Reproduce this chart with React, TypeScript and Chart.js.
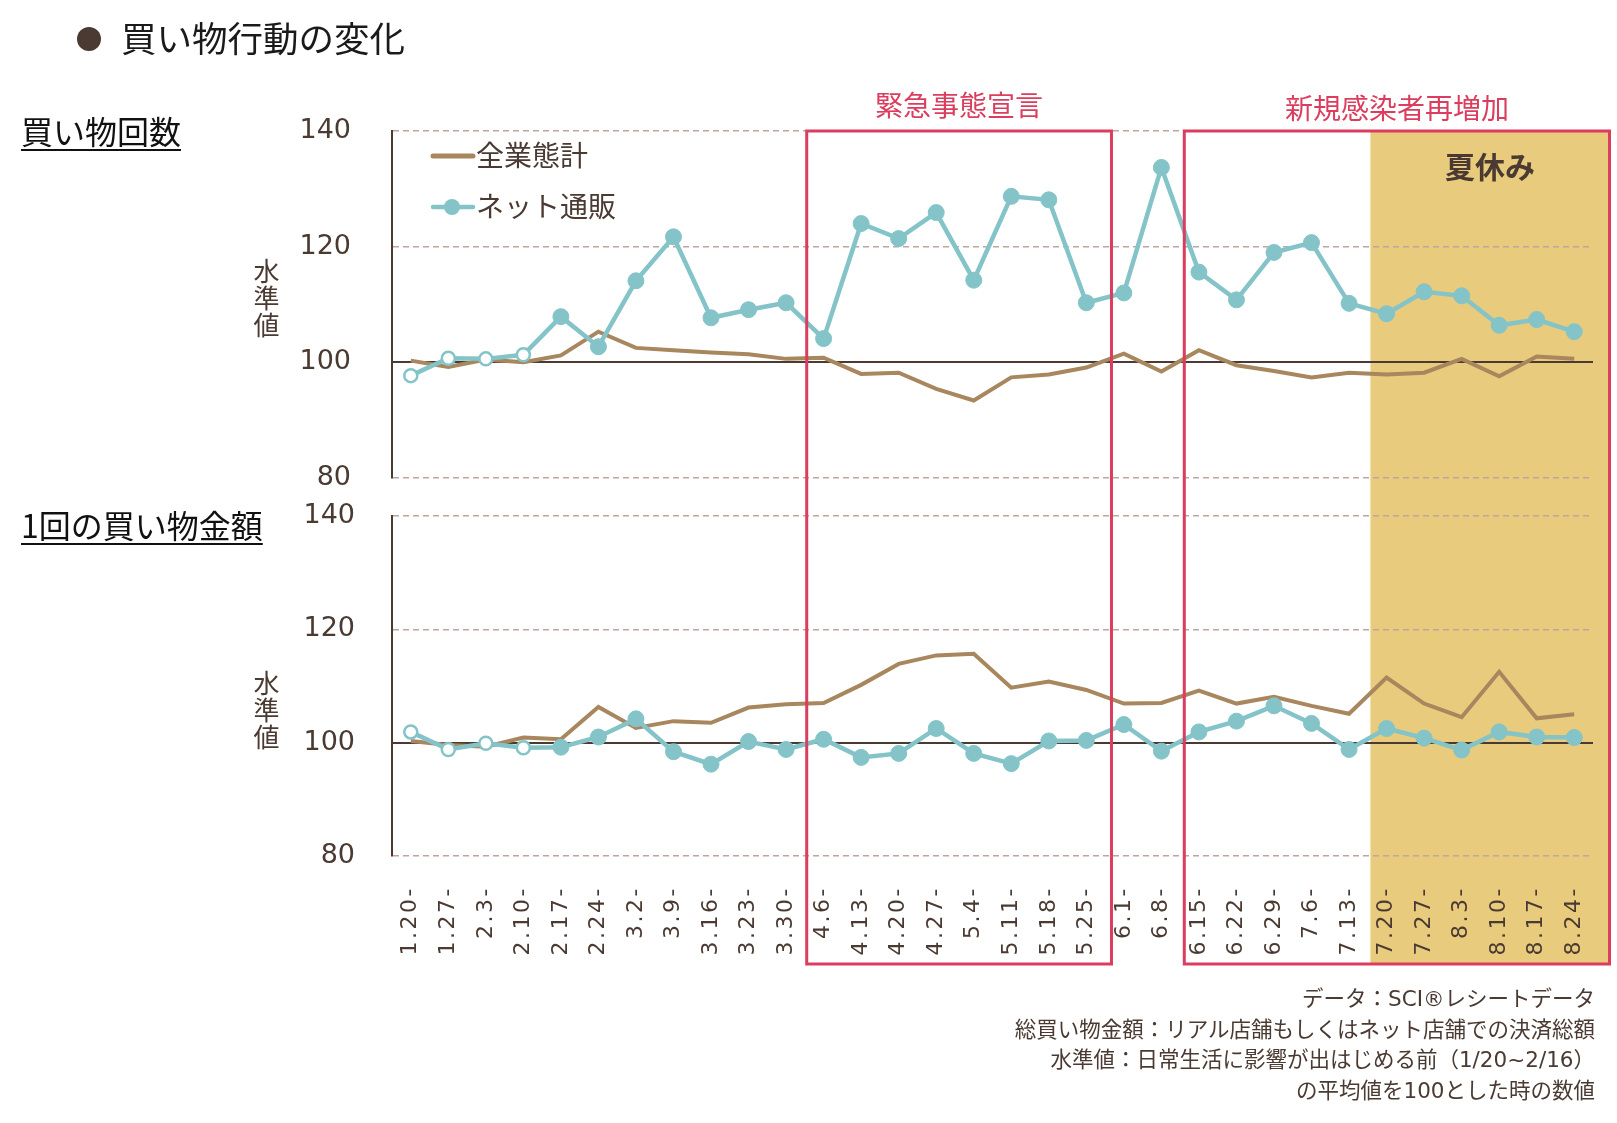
import React, { useEffect, useRef } from 'react';
import { Chart, registerables } from 'chart.js';

Chart.register(...registerables);

// ---- data ----
const categories = [
  '1.20-', '1.27-', '2.3-', '2.10-', '2.17-', '2.24-', '3.2-', '3.9-', '3.16-', '3.23-', '3.30-',
  '4.6-', '4.13-', '4.20-', '4.27-', '5.4-', '5.11-', '5.18-', '5.25-', '6.1-', '6.8-',
  '6.15-', '6.22-', '6.29-', '7.6-', '7.13-', '7.20-', '7.27-', '8.3-', '8.10-', '8.17-', '8.24-',
];

// 買い物回数
const countTotal = [
  100.3, 99.2, 100.5, 100.0, 101.2, 105.3, 102.5, 102.1, 101.7, 101.4, 100.6,
  100.8, 98.0, 98.2, 95.4, 93.4, 97.4, 97.9, 99.1, 101.5, 98.4,
  102.1, 99.5, 98.5, 97.4, 98.2, 97.9, 98.2, 100.6, 97.6, 101.0, 100.6,
];
const countNet = [
  97.7, 100.7, 100.6, 101.3, 107.9, 102.7, 114.1, 121.7, 107.7, 109.1, 110.3,
  104.1, 124.0, 121.4, 125.9, 114.2, 128.7, 128.1, 110.3, 112.0, 133.7,
  115.6, 110.8, 119.0, 120.7, 110.2, 108.4, 112.2, 111.5, 106.4, 107.4, 105.3,
];

// 1回の買い物金額
const amountTotal = [
  100.3, 99.6, 99.3, 100.9, 100.6, 106.3, 102.6, 103.8, 103.5, 106.2, 106.8,
  107.0, 110.2, 113.9, 115.4, 115.7, 109.7, 110.8, 109.3, 106.9, 107.0,
  109.2, 106.9, 108.1, 106.5, 105.1, 111.5, 106.9, 104.5, 112.5, 104.3, 105.0,
];
const amountNet = [
  101.9, 98.8, 99.9, 99.1, 99.2, 101.0, 104.2, 98.4, 96.2, 100.2, 98.8,
  100.6, 97.4, 98.1, 102.5, 98.1, 96.3, 100.3, 100.4, 103.2, 98.5,
  101.9, 103.8, 106.5, 103.4, 98.8, 102.5, 100.8, 98.7, 101.9, 101.0, 100.9,
];

const yTicks = [80, 100, 120, 140];
const seriesNames = ['全業態計', 'ネット通販'];
const baselineWeeks = 4; // 1/20~2/16: hollow markers

const footnotes = [
  'データ：SCI®レシートデータ',
  '総買い物金額：リアル店舗もしくはネット店舗での決済総額',
  '水準値：日常生活に影響が出はじめる前（1/20~2/16）',
  'の平均値を100とした時の数値',
];

// ---- styles ----
const INK = '#4a3a32';
const TEAL = '#84c4c8';
const BROWN = '#a8865e';
const RED = '#db3d5e';
const SHADE = '#e8cb7d';
const GRID = '#bfa69e';
const CJK = '"Noto Sans CJK JP", "Noto Sans", sans-serif';
const LATIN = '"DejaVu Sans", sans-serif';
const MIXED = '"DejaVu Sans", "Noto Sans CJK JP", sans-serif';

const periodsPlugin = {
  id: 'periods',
  beforeDraw(chart: any) {
    const xs: any = chart.scales.x;
    if (xs && !xs.__spaced) {
      const orig = xs.drawLabels.bind(xs);
      xs.drawLabels = (area: any) => {
        const ctx = chart.ctx;
        ctx.save();
        (ctx as any).letterSpacing = '2.5px';
        orig(area);
        ctx.restore();
      };
      xs.__spaced = true;
    }
    const g = geometry(chart);
    const ctx = chart.ctx;
    ctx.save();
    ctx.fillStyle = SHADE;
    ctx.fillRect(g.shadeLeft, g.top, g.box2Right - g.shadeLeft, g.bottom - g.top);
    ctx.restore();
  },
  afterDraw(chart: any) {
    const g = geometry(chart);
    const ctx = chart.ctx;
    ctx.save();
    ctx.strokeStyle = RED;
    ctx.lineWidth = 3;
    ctx.strokeRect(g.box1Left, g.top, g.box1Right - g.box1Left, g.bottom - g.top);
    ctx.strokeRect(g.box2Left, g.top, g.box2Right - g.box2Left, g.bottom - g.top);
    ctx.fillStyle = RED;
    ctx.font = `28px ${CJK}`;
    ctx.textAlign = 'center';
    ctx.textBaseline = 'middle';
    ctx.fillText('緊急事態宣言', (g.box1Left + g.box1Right) / 2, g.top - 26);
    ctx.fillText('新規感染者再増加', (g.box2Left + g.box2Right) / 2, g.top - 23);
    ctx.fillStyle = INK;
    ctx.font = `bold 30px ${CJK}`;
    ctx.fillText('夏休み', (g.shadeLeft + g.box2Right) / 2, g.top + 36);

    // legend
    const lx = chart.chartArea.left + 39;
    const ly1 = chart.chartArea.top + 25;
    const ly2 = chart.chartArea.top + 76;
    ctx.lineCap = 'round';
    ctx.lineWidth = 5;
    ctx.strokeStyle = BROWN;
    ctx.beginPath();
    ctx.moveTo(lx + 2, ly1);
    ctx.lineTo(lx + 42, ly1);
    ctx.stroke();
    ctx.strokeStyle = TEAL;
    ctx.lineWidth = 4.5;
    ctx.beginPath();
    ctx.moveTo(lx + 2, ly2);
    ctx.lineTo(lx + 42, ly2);
    ctx.stroke();
    ctx.fillStyle = TEAL;
    ctx.beginPath();
    ctx.arc(lx + 21, ly2, 8, 0, Math.PI * 2);
    ctx.fill();
    ctx.fillStyle = INK;
    ctx.font = `28px ${CJK}`;
    ctx.textAlign = 'left';
    ctx.fillText(seriesNames[0], lx + 45, ly1 - 1);
    ctx.fillText(seriesNames[1], lx + 45, ly2 - 1);
    ctx.restore();
  },
};

function geometry(chart: any) {
  const xs = chart.scales.x;
  const at = (label: string, shift: number) => xs.getPixelForValue(categories.indexOf(label) + shift);
  const top = chart.chartArea.top;
  const bottom = chart.chartArea.bottom + 108;
  return {
    top,
    bottom,
    box1Left: at('4.6-', -0.45),
    box1Right: at('5.25-', 0.67),
    box2Left: at('6.15-', -0.39),
    box2Right: at('8.24-', 0.94),
    shadeLeft: at('7.20-', -0.43),
  };
}

function isBase(c: any) {
  return c && c.tick && c.tick.value === 100;
}

function panelAxis(weight: number, stackWeight: number, pad: number) {
  return {
    type: 'linear',
    position: 'left',
    stack: 'panels',
    stackWeight,
    weight,
    min: yTicks[0],
    max: yTicks[yTicks.length - 1],
    afterBuildTicks: (s: any) => {
      s.ticks = yTicks.map((v) => ({ value: v }));
    },
    afterFit: (s: any) => {
      s.width = 120;
    },
    ticks: {
      padding: pad,
      color: INK,
      font: { family: LATIN, size: 27 },
    },
    grid: {
      drawTicks: false,
      color: (c: any) => (isBase(c) ? INK : GRID),
      lineWidth: (c: any) => (isBase(c) ? 2 : 1.6),
    },
    border: {
      color: INK,
      width: 2,
      dash: (c: any) => (c && c.tick && !isBase(c) ? [6, 4] : []),
    },
  };
}

export default function App() {
  const ref = useRef<HTMLCanvasElement>(null);

  useEffect(() => {
    const canvas = ref.current;
    if (!canvas) return;
    const pointBg = categories.map((_, i) => (i < baselineWeeks ? '#ffffff' : TEAL));
    const pointRadius = categories.map((_, i) => (i < baselineWeeks ? 6.5 : 8));
    const pointBorderWidth = categories.map((_, i) => (i < baselineWeeks ? 2.5 : 1));

    const netStyle = {
      borderColor: TEAL,
      borderWidth: 4.5,
      pointBackgroundColor: pointBg,
      pointBorderColor: TEAL,
      pointBorderWidth,
      pointRadius,
      pointHoverRadius: pointRadius,
      tension: 0,
    };
    const totalStyle = {
      borderColor: BROWN,
      borderWidth: 4,
      pointRadius: 0,
      tension: 0,
    };

    const chart = new Chart(canvas, {
      type: 'line',
      data: {
        labels: categories,
        datasets: [
          { label: seriesNames[1], data: countNet, yAxisID: 'yTop', ...netStyle },
          { label: seriesNames[1], data: amountNet, yAxisID: 'yBot', ...netStyle },
          { label: seriesNames[0], data: countTotal, yAxisID: 'yTop', ...totalStyle },
          { label: seriesNames[0], data: amountTotal, yAxisID: 'yBot', ...totalStyle },
        ],
      },
      options: {
        responsive: false,
        animation: false,
        layout: { padding: { left: 272, top: 131, right: 24, bottom: 157 } },
        plugins: { legend: { display: false }, tooltip: { enabled: false } },
        scales: {
          x: {
            type: 'category',
            offset: true,
            grid: { display: false },
            border: { display: false },
            afterFit: (s: any) => {
              s.height = 110;
              s.paddingLeft = 0;
              s.paddingRight = 0;
            },
            ticks: {
              color: INK,
              font: { family: LATIN, size: 22 },
              minRotation: 90,
              maxRotation: 90,
              autoSkip: false,
              padding: 22,
            },
          },
          yTop: panelAxis(3, 347, 41),
          yGap: {
            type: 'linear',
            position: 'left',
            stack: 'panels',
            stackWeight: 38,
            weight: 2,
            min: 0,
            max: 1,
            afterFit: (s: any) => {
              s.width = 120;
            },
            ticks: { display: false },
            grid: { display: false },
            border: { display: false },
          },
          yBot: panelAxis(1, 340, 37),
        } as any,
      },
      plugins: [periodsPlugin as any],
    } as any);
    return () => chart.destroy();
  }, []);

  const text = (extra: any) => ({ position: 'absolute', whiteSpace: 'nowrap', fontFamily: CJK, ...extra });

  return (
    <div style={{ position: 'absolute', left: 0, top: 0, width: 1617, height: 1123, overflow: 'hidden', background: '#ffffff' }}>
      <canvas ref={ref} width={1617} height={1123} style={{ position: 'absolute', left: 0, top: 0 }} />
      <div style={{ position: 'absolute', left: 77, top: 27, width: 24, height: 24, borderRadius: '50%', background: INK }} />
      <div style={text({ left: 121, top: 19, fontSize: 35.5, lineHeight: '35.5px', color: '#1a1a1a' })}>買い物行動の変化</div>
      <div style={text({ left: 21, top: 114, fontSize: 32, lineHeight: '32px', color: '#111', textDecoration: 'underline', textDecorationThickness: '2px', textUnderlineOffset: '5px' })}>買い物回数</div>
      <div style={text({ left: 21, top: 508, fontSize: 32, lineHeight: '32px', color: '#111', textDecoration: 'underline', textDecorationThickness: '2px', textUnderlineOffset: '5px' })}>1回の買い物金額</div>
      <div style={text({ left: 253, top: 256, width: 27, fontSize: 26, lineHeight: '27px', color: INK, textAlign: 'center', whiteSpace: 'normal' })}>水<br />準<br />値</div>
      <div style={text({ left: 253, top: 668, width: 27, fontSize: 26, lineHeight: '27px', color: INK, textAlign: 'center', whiteSpace: 'normal' })}>水<br />準<br />値</div>
      <div style={text({ right: 22, top: 984, fontSize: 21.5, lineHeight: '30.5px', color: INK, textAlign: 'right', fontFamily: MIXED })}>
        {footnotes.map((f) => (
          <div key={f}>{f}</div>
        ))}
      </div>
    </div>
  );
}
